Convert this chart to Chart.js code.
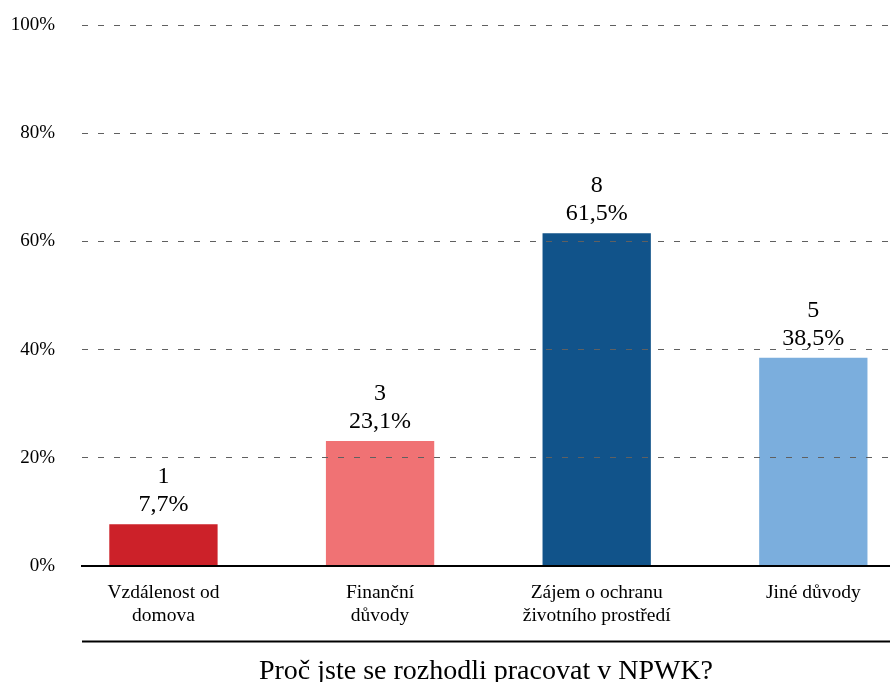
<!DOCTYPE html>
<html>
<head>
<meta charset="utf-8">
<script src="https://cdn.jsdelivr.net/npm/chart.js@4/dist/chart.umd.min.js"></script>
<style>
  html, body { margin: 0; padding: 0; background: #fff; }
  #wrap { width: 890px; height: 682px; position: relative; }
</style>
</head>
<body>
<div id="wrap"><canvas id="c"></canvas></div>
<script>
const categories = [
  ['Vzdálenost od', 'domova'],
  ['Finanční', 'důvody'],
  ['Zájem o ochranu', 'životního prostředí'],
  ['Jiné důvody']
];
const counts = [1, 3, 8, 5];
const percentages = [7.7, 23.1, 61.5, 38.5];
const barColors = ['#CC2129', '#F07274', '#11538A', '#7BAEDD'];
const yTicks = [0, 20, 40, 60, 80, 100];
const axisTitle = 'Proč jste se rozhodli pracovat v NPWK?';

const SERIF = '"Liberation Serif", "Times New Roman", serif';

const labelPlugin = {
  id: 'barLabels',
  afterDatasetsDraw(chart) {
    const ctx = chart.ctx;
    const meta = chart.getDatasetMeta(0);
    ctx.save();
    ctx.fillStyle = '#000';
    ctx.font = '24px ' + SERIF;
    ctx.textAlign = 'center';
    ctx.textBaseline = 'alphabetic';
    meta.data.forEach((bar, i) => {
      const pct = percentages[i].toFixed(1).replace('.', ',') + '%';
      ctx.fillText(pct, bar.x, bar.y - 13);
      ctx.fillText(String(counts[i]), bar.x, bar.y - 41);
    });
    ctx.restore();
  }
};

const sepLinePlugin = {
  id: 'sepLine',
  afterDraw(chart) {
    const ctx = chart.ctx;
    const xs = chart.scales.x;
    const y = xs.bottom - 40.5;
    ctx.save();
    ctx.strokeStyle = '#000';
    ctx.lineWidth = 2;
    ctx.beginPath();
    ctx.moveTo(chart.chartArea.left, y);
    ctx.lineTo(chart.chartArea.right, y);
    ctx.stroke();
    ctx.restore();
  }
};

new Chart(document.getElementById('c'), {
  type: 'bar',
  data: {
    datasets: [{
      data: percentages.map((v, i) => ({ x: i, y: v })),
      backgroundColor: barColors,
      borderWidth: 0,
      barPercentage: 0.5,
      categoryPercentage: 1.0
    }]
  },
  options: {
    responsive: true,
    maintainAspectRatio: false,
    animation: false,
    layout: { padding: { top: 25, left: 0, right: 0, bottom: 0 } },
    plugins: {
      legend: { display: false },
      tooltip: { enabled: false }
    },
    scales: {
      x: {
        type: 'linear',
        offset: false,
        min: -0.376,
        max: 3.354,
        afterBuildTicks: (scale) => {
          scale.ticks = categories.map((c, i) => ({ value: i }));
        },
        afterFit: (scale) => { scale.height = 116; },
        grid: { display: false, drawTicks: false, offset: false },
        border: { display: true, color: '#000', width: 2, z: 1 },
        ticks: {
          autoSkip: false,
          maxRotation: 0,
          minRotation: 0,
          padding: 15,
          color: '#000',
          font: { family: SERIF, size: 19.5, lineHeight: 1.2 },
          callback: (v) => categories[v]
        },
        title: {
          display: true,
          text: axisTitle,
          color: '#000',
          font: { family: SERIF, size: 28, lineHeight: 1.0 },
          padding: { top: 0, bottom: -4 }
        }
      },
      y: {
        min: 0,
        max: 100,
        afterBuildTicks: (scale) => {
          scale.ticks = yTicks.map(v => ({ value: v }));
        },
        afterFit: (scale) => {
          scale.width = 82;
          scale.paddingTop = 0;
          scale.paddingBottom = 0;
        },
        grid: {
          z: 1,
          drawTicks: false,
          lineWidth: 1,
          color: (ctx) => (ctx.tick && ctx.tick.value === 0) ? 'rgba(0,0,0,0)' : '#606060'
        },
        border: { display: false, dash: [6, 10] },
        ticks: {
          padding: 27,
          color: '#000',
          font: { family: SERIF, size: 19 },
          callback: (v) => v + '%'
        }
      }
    }
  },
  plugins: [labelPlugin, sepLinePlugin]
});
</script>
</body>
</html>
